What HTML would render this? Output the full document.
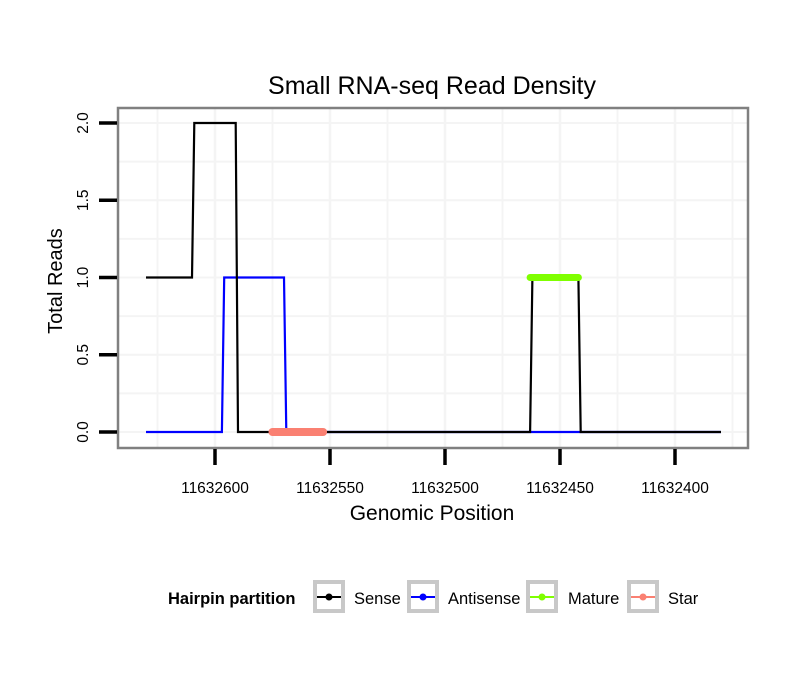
<!DOCTYPE html>
<html><head><meta charset="utf-8"><style>
body{margin:0;background:#fff}
svg text{font-family:"Liberation Sans",sans-serif}
</style></head><body>
<svg id="chart" width="810" height="690" xmlns="http://www.w3.org/2000/svg">
<rect width="810" height="690" fill="#fff"/>
<text x="432" y="94" font-size="25" text-anchor="middle">Small RNA-seq Read Density</text>
<g id="grid"></g>
<g id="series"></g>
<rect x="118" y="108" width="630" height="340" fill="none" stroke="#808080" stroke-width="2.5"/>
<g id="axes"></g>
<text transform="translate(62,281) rotate(-90)" font-size="20" text-anchor="middle">Total Reads</text>
<text x="432" y="520" font-size="21" text-anchor="middle">Genomic Position</text>
<g id="legend"></g>
</svg>
<script>
const xTicks=[11632600,11632550,11632500,11632450,11632400];
const yTicks=[0,0.5,1,1.5,2];
const yTickLabels=["0.0","0.5","1.0","1.5","2.0"];
const senseX=[11632630,11632610,11632609,11632591,11632590,11632463,11632462,11632442,11632441,11632380];
const senseY=[1,1,2,2,0,0,1,1,0,0];
const antiX=[11632630,11632597,11632596,11632570,11632569,11632380];
const antiY=[0,0,1,1,0,0];
const matureX=[11632463,11632442];
const matureY=[1,1];
const starX=[11632575,11632553];
const starY=[0,0];
const legendLabels=["Sense","Antisense","Mature","Star"];
const legendColors=["#000000","#0000ff","#7fff00","#fa8072"];

const NS="http://www.w3.org/2000/svg";
function X(p){return 215+(11632600-p)*2.3;}
function Y(v){return 432-v*154.5;}
function mk(tag,attrs,parent){const e=document.createElementNS(NS,tag);for(const k in attrs)e.setAttribute(k,attrs[k]);parent.appendChild(e);return e;}
const grid=document.getElementById('grid'),series=document.getElementById('series'),axes=document.getElementById('axes'),legend=document.getElementById('legend');
for(let i=-1;i<xTicks.length;i++){const p=xTicks[0]+25-50*(i+1);const x=X(p);if(x>118&&x<748){const l=mk('line',{x1:x,x2:x,y1:109,y2:447,stroke:'#f4f4f4','stroke-width':2},grid);}}
xTicks.forEach(p=>{const x=X(p);const l=mk('line',{x1:x,x2:x,y1:109,y2:447,stroke:'#f4f4f4','stroke-width':2.5},grid);});
for(let v=-0.25;v<=2.3;v+=0.25){const y=Y(v);if(y>109&&y<447){const l=mk('line',{x1:119,x2:747,y1:y,y2:y,stroke:'#f4f4f4','stroke-width':2},grid);}}
function poly(xa,ya,color,w,name,cap){const pts=xa.map((p,i)=>X(p)+','+Y(ya[i])).join(' ');const e=mk('polyline',{points:pts,fill:'none',stroke:color,'stroke-width':w,'stroke-linecap':cap||'butt','stroke-linejoin':'miter'},series);}
poly(antiX,antiY,'#0000ff',2.2,'antisense-line');
poly(senseX,senseY,'#000000',2.2,'sense-line');
poly(matureX,matureY,'#7fff00',7,'mature-segment','round');
poly(starX,starY,'#fa8072',8,'star-segment','round');
xTicks.forEach(p=>{const x=X(p);const t=mk('line',{x1:x,x2:x,y1:449,y2:465,stroke:'#000','stroke-width':3.5},axes);
const tx=mk('text',{x:x,y:493,'font-size':15.5,'text-anchor':'middle'},axes);tx.textContent=p;});
yTicks.forEach((v,i)=>{const y=Y(v);const t=mk('line',{x1:99,x2:117,y1:y,y2:y,stroke:'#000','stroke-width':3.5},axes);
const tx=mk('text',{transform:`translate(88,${y}) rotate(-90)`,'font-size':15.5,'text-anchor':'middle'},axes);tx.textContent=yTickLabels[i];});
const lt=mk('text',{x:168,y:604,'font-size':16.5,'font-weight':'bold'},legend);lt.textContent='Hairpin partition';
const boxX=[313,407,526,627],textX=[354,448,568,668];
legendLabels.forEach((lab,i)=>{const g=mk('g',{},legend);
mk('rect',{x:boxX[i]+2,y:582,width:28,height:29,fill:'#fff',stroke:'#c8c8c8','stroke-width':4},g);
mk('line',{x1:boxX[i]+4,x2:boxX[i]+28,y1:597,y2:597,stroke:legendColors[i],'stroke-width':2},g);
mk('circle',{cx:boxX[i]+16,cy:597,r:3.5,fill:legendColors[i]},g);
const t=mk('text',{x:textX[i],y:604,'font-size':16.5},g);t.textContent=lab;});
</script>
</body></html>
